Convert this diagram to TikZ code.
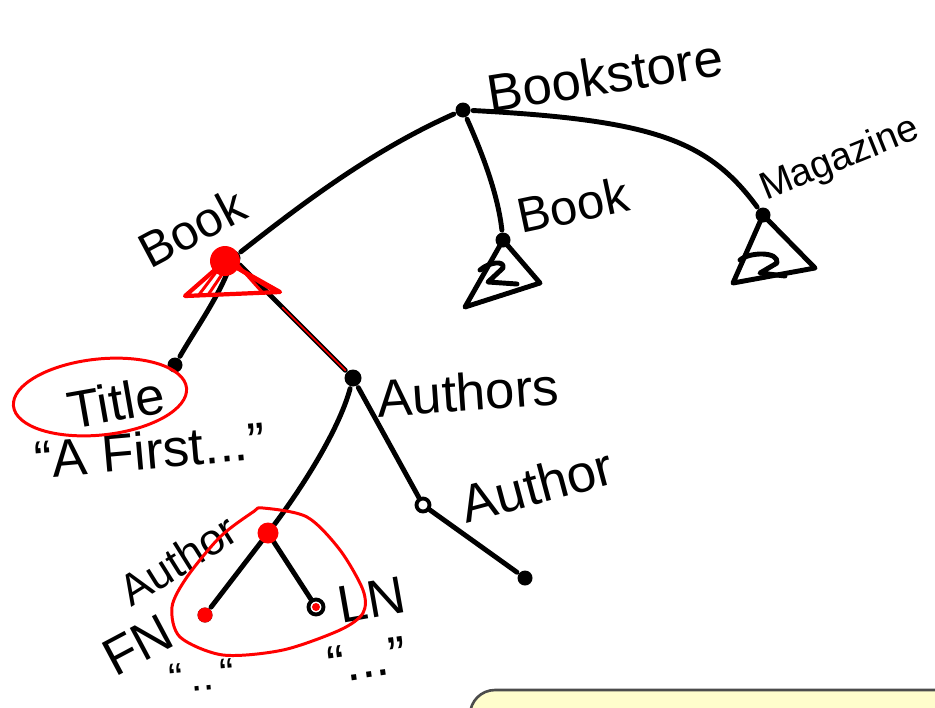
\documentclass[tikz,border=0pt]{standalone}
\usepackage{fontspec}
\setmainfont{Liberation Sans}
\usepackage{tikz}
\definecolor{notefill}{HTML}{FFFDCC}

\begin{document}
\begin{tikzpicture}[x=0.02cm, y=-0.02cm, line width=2.8pt, line cap=round, line join=round,
    dot/.style={circle, fill=black, inner sep=0pt, minimum size=0.3cm},
    hollow/.style={circle, draw=black, fill=white, line width=2.2pt, inner sep=0pt, minimum size=0.26cm},
    hand/.style={inner sep=0pt, font=\fontsize{#1pt}{#1pt}\selectfont},
    hand/.default=30,
    redpen/.style={draw=red, line width=1.7pt}]
  \useasboundingbox (0,0) rectangle (935,707);
  \clip (0,0) rectangle (935,707);

  \node [dot] (bookstore) at (463,110) {};
  \node [dot] (book) at (233,258) {};
  \node [dot] (booktwo) at (503,240) {};
  \node [dot] (magazine) at (763,215) {};
  \node [dot] (title) at (175,365) {};
  \node [dot, minimum size=0.34cm] (authors) at (353,378) {};
  \node [dot] (authorone) at (268,533) {};
  \node [hollow] (authortwo) at (423,505) {};
  \node [dot] (authorleaf) at (525,578) {};
  \node [dot] (fn) at (205,615) {};
  \node [hollow, minimum size=0.3cm] (ln) at (316,607) {};

  \draw (bookstore) .. controls +(-90,40) and +(70,-55) .. (book);
  \draw (bookstore) .. controls +(20,45) and +(-5,-45) .. (booktwo);
  \draw (bookstore) .. controls +(190,10) and +(-55,-75) .. (magazine);
  \draw (book) .. controls +(-15,40) and +(20,-35) .. (title);
  \draw (book) -- (authors);
  \draw (authors) .. controls +(-15,55) and +(30,-40) .. (authorone);
  \draw (authors) -- (authortwo);
  \draw (authortwo) -- (authorleaf);
  \draw (authorone) -- (fn);
  \draw (authorone) -- (ln);

  \draw (booktwo.center) -- +(-38,67) -- +(37,43) -- cycle;
  \begin{scope}[shift={(booktwo.center)}]
    \draw (-23,30) .. controls (-14,22) and (2,20) .. (0,28) -- (-15,42) -- (14,44);
  \end{scope}
  \draw (magazine.center) -- +(-30,68) -- +(52,53) -- cycle;
  \begin{scope}[shift={(magazine.center)}]
    \draw (-23,45) .. controls (-14,37) and (16,36) .. (14,48) -- (-3,58) -- (22,61);
  \end{scope}

  \node [hand, rotate=9] (bookstorelabel) at (605,75) {Bookstore};
  \node [hand=28, rotate=28] (booklabel) at (192,228) {Book};
  \node [hand=28, rotate=12] (booktwolabel) at (573,205) {Book};
  \node [hand=22, rotate=22] (magazinelabel) at (840,160) {Magazine};
  \node [hand, rotate=10] (titlelabel) at (116,402) {Title};
  \node [hand, rotate=5] (titlevalue) at (150,450) {“A First...”};
  \node [hand, rotate=4] (authorslabel) at (468,392) {Authors};
  \node [hand, rotate=15] (authortwolabel) at (537,485) {Author};
  \node [hand=25, rotate=32] (authoronelabel) at (178,560) {Author};
  \node [hand, rotate=28] (fnlabel) at (138,645) {FN};
  \node [hand, rotate=10] (lnlabel) at (372,600) {LN};
  \node [hand=24, rotate=5] (fnvalue) at (202,676) {“\,..\,“};
  \node [hand, rotate=8] (lnvalue) at (367,660) {“...”};

  \fill [red] (book.center) ++(-8,3) circle [radius=0.3cm];
  \draw [redpen, line width=2.4pt] (book.center) ++(-8,3) -- (185,296) -- (280,292) -- cycle;
  \draw [redpen] (book.center) ++(-10,5) -- (198,296);
  \draw [redpen] (book.center) ++(-4,6) -- (208,295);
  \draw [redpen] (book.center) ++(0,8) -- (272,290);
  \draw [redpen] (book.center) ++(4,6) -- (262,292);
  \draw [redpen, line width=1pt, xshift=0.05cm, shorten <=1.2cm] (book) -- (authors);
  \draw [redpen, rotate around={6:(100,397)}] (100,397) ellipse [x radius=87, y radius=38];
  \fill [red] (authorone) circle [radius=0.21cm];
  \fill [red] (fn) circle [radius=0.15cm];
  \fill [red] (ln) circle [radius=0.08cm];
  \draw [redpen] plot [smooth cycle] coordinates {(263,508) (307,517) (340,550) (363,590)
    (363,613) (340,630) (283,650) (223,655) (180,637) (172,607) (187,577) (220,537) (253,512)};

  \draw [fill=notefill, draw=black!70, line width=1.5pt, rounded corners=0.5cm] (470,690) rectangle (1000,800);
\end{tikzpicture}
\end{document}
